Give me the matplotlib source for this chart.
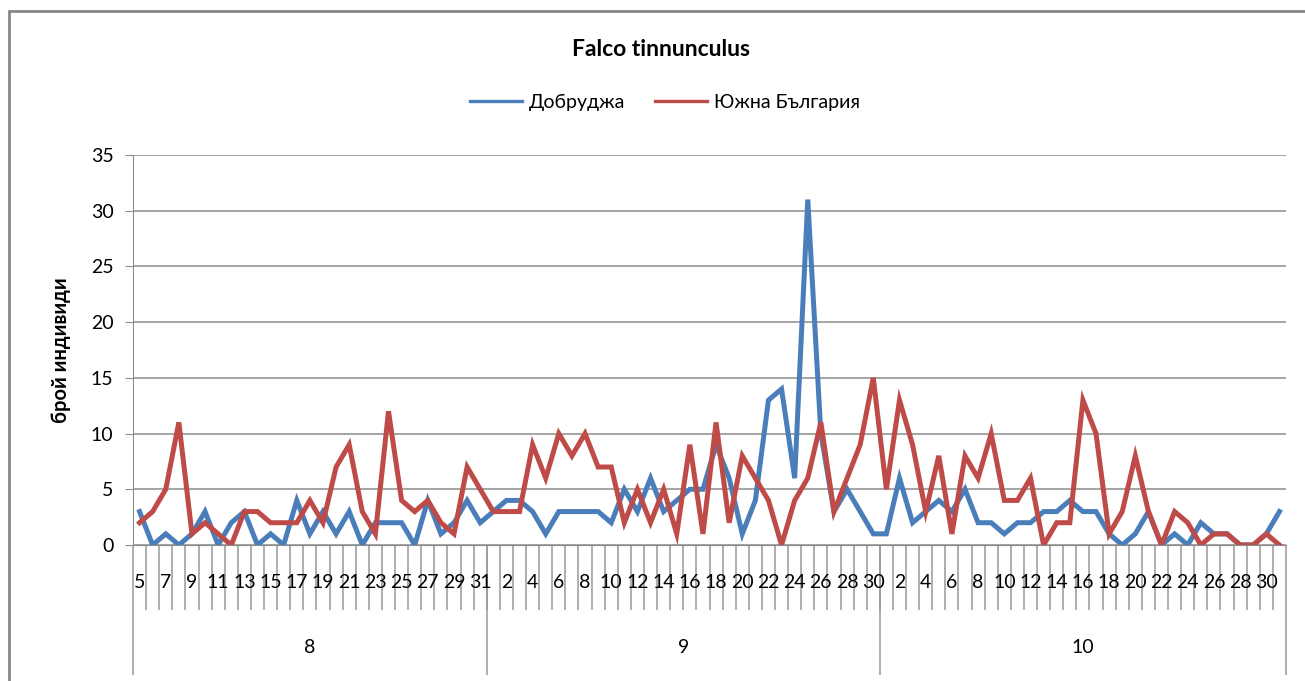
import numpy as np
import matplotlib.pyplot as plt
from matplotlib.patches import Rectangle

plt.rcParams['font.family'] = ['Lato', 'Noto Sans', 'DejaVu Sans']

title = "Falco tinnunculus"
series_names = ["Добруджа", "Южна България"]
months = ["8", "9", "10"]
month_days = [list(range(5, 32)), list(range(1, 31)), list(range(1, 32))]

dobrudzha = [3, 0, 1, 0, 1, 3, 0, 2, 3, 0, 1, 0, 4, 1, 3, 1, 3, 0, 2, 2, 2, 0, 4, 1, 2, 4, 2,
             3, 4, 4, 3, 1, 3, 3, 3, 3, 2, 5, 3, 6, 3, 4, 5, 5, 9, 6, 1, 4, 13, 14, 6, 31, 10, 3, 5, 3, 1,
             1, 6, 2, 3, 4, 3, 5, 2, 2, 1, 2, 2, 3, 3, 4, 3, 3, 1, 0, 1, 3, 0, 1, 0, 2, 1, 1, 0, 0, 1, 3]
south_bg = [2, 3, 5, 11, 1, 2, 1, 0, 3, 3, 2, 2, 2, 4, 2, 7, 9, 3, 1, 12, 4, 3, 4, 2, 1, 7, 5,
            3, 3, 3, 9, 6, 10, 8, 10, 7, 7, 2, 5, 2, 5, 1, 9, 1, 11, 2, 8, 6, 4, 0, 4, 6, 11, 3, 6, 9, 15,
            5, 13, 9, 3, 8, 1, 8, 6, 10, 4, 4, 6, 0, 2, 2, 13, 10, 1, 3, 8, 3, 0, 3, 2, 0, 1, 1, 0, 0, 1, 0]

day_labels = [str(d) for days in month_days for d in days]
n = len(day_labels)
x = np.arange(n) + 0.5

blue = '#4A7EBB'
red = '#BE4B48'
grid_col = '#8C8C8C'

fig = plt.figure(figsize=(13.05, 6.81), dpi=100)
ax = fig.add_axes([133 / 1305, 136 / 681, 1153 / 1305, 390 / 681])

l1, = ax.plot(x, dobrudzha, color=blue, lw=3.6, solid_joinstyle='miter', label=series_names[0])
l2, = ax.plot(x, south_bg, color=red, lw=3.6, solid_joinstyle='miter', label=series_names[1])

ax.set_xlim(0, n)
ax.set_ylim(0, 35)
ax.set_yticks(range(0, 36, 5))
ax.yaxis.grid(True, color=grid_col, lw=1.1)
ax.set_axisbelow(True)
ax.tick_params(axis='y', length=6, color=grid_col, labelsize=14, pad=8)
ax.set_xticks([])
for s in ['top', 'right']:
    ax.spines[s].set_visible(False)
ax.spines['left'].set_color(grid_col)
ax.spines['bottom'].set_color(grid_col)

# two-level category axis
tr = ax.get_xaxis_transform()
ax.vlines(np.arange(1, n), -0.167, 0, transform=tr, color='#999999', lw=1.1, clip_on=False)
bounds = np.cumsum([0] + [len(d) for d in month_days])
ax.vlines(bounds, -0.333, 0, transform=tr, color='#999999', lw=1.1, clip_on=False)
for i in range(0, n, 2):
    ax.text(x[i], -0.095, day_labels[i], transform=tr, ha='center', va='center', fontsize=14)
for m, a, b in zip(months, bounds[:-1], bounds[1:]):
    ax.text((a + b) / 2, -0.262, m, transform=tr, ha='center', va='center', fontsize=14)

ax.set_ylabel("брой индивиди", fontsize=14.5, fontweight='bold', labelpad=14)

fig.text(0.5067, 0.927, title, ha='center', va='center', fontsize=16.5, fontweight='bold')
leg = fig.legend(handles=[l1, l2], loc='center', bbox_to_anchor=(0.5096, 0.850), ncol=2,
                 frameon=False, fontsize=14, handlelength=2.7, handletextpad=0.35,
                 columnspacing=1.5)
for ln in leg.get_lines():
    ln.set_linewidth(2.4)

# outer chart border
fig.patches.append(Rectangle((9 / 1305, -0.5), 2, 1.5 - 11 / 681, transform=fig.transFigure,
                             fill=False, edgecolor='#878787', lw=2))

fig.savefig('out.png', dpi=100)
